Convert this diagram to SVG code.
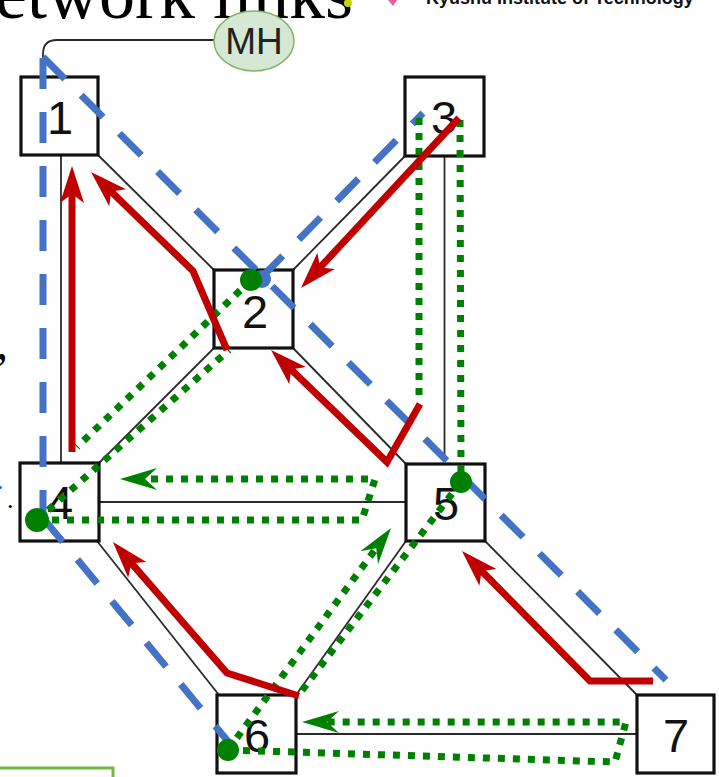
<svg xmlns="http://www.w3.org/2000/svg" width="719" height="777" viewBox="0 0 719 777">
  <style>
    .link { fill: none; stroke: #2a2a2a; stroke-width: 1.8; }
    .box { fill: #ffffff; stroke: #111111; stroke-width: 3.2; }
    .num { font-family: "Liberation Sans", Arial, sans-serif; font-size: 47px; fill: #111111; text-anchor: middle; }
    .tree { fill: none; stroke: #4472C4; stroke-width: 7; stroke-dasharray: 31 23; stroke-linejoin: miter; }
    .backup { fill: none; stroke: #008000; stroke-width: 7; stroke-dasharray: 7 8; }
    .primary { fill: none; stroke: #C00000; stroke-width: 7; stroke-linejoin: miter; }
    .dot { fill: #008000; }
  </style>
  <defs>
    <marker id="arrow-red" viewBox="0 -13 38 26" markerWidth="38" markerHeight="26" refX="17" refY="0" orient="auto" markerUnits="userSpaceOnUse">
      <path d="M0,-12 L37,0 L0,12 L9,0 Z" fill="#C00000"/>
    </marker>
    <marker id="arrow-green" viewBox="0 -13 38 26" markerWidth="38" markerHeight="26" refX="17" refY="0" orient="auto" markerUnits="userSpaceOnUse">
      <path d="M0,-11 L37,0 L0,11 L12,0 Z" fill="#008000"/>
    </marker>
  </defs>

  <rect x="0" y="0" width="719" height="777" fill="#ffffff"/>

  <!-- slide heading and footer fragments -->
  <text x="-5" y="18" font-family="'Liberation Serif', 'Times New Roman', serif" font-size="72" fill="#000000">etwork links</text>
  <ellipse cx="348" cy="3" rx="4" ry="4" fill="#c8d400"/>
  <path d="M388,0 L397,0 L393,6 Z" fill="#e0609a"/>
  <text x="426" y="4" font-family="'Liberation Sans', Arial, sans-serif" font-weight="bold" font-size="18" fill="#111111">Kyushu Institute of Technology</text>
  <text x="-4" y="359" font-family="'Liberation Serif', 'Times New Roman', serif" font-size="48" fill="#000000">,</text>
  <text x="-3" y="489" font-family="'Liberation Serif', 'Times New Roman', serif" font-size="26" fill="#0070C0">.</text>
  <text x="7" y="508" font-family="'Liberation Serif', 'Times New Roman', serif" font-size="26" fill="#000000">.</text>
  <rect x="-3" y="768" width="116" height="20" fill="#ffffff" stroke="#77b843" stroke-width="3"/>

  <!-- physical links -->
  <g id="connectors">
    <path class="link" d="M214,40 H57 Q43,40 43,54 V77"/>
    <path class="link" d="M61,155 V463"/>
    <path class="link" d="M98,155 L214,270"/>
    <path class="link" d="M405,156 L293,270"/>
    <path class="link" d="M214,348 L99,463"/>
    <path class="link" d="M293,348 L406,464"/>
    <path class="link" d="M444.5,156 V464"/>
    <path class="link" d="M99,502 H406"/>
    <path class="link" d="M97,541 L219,695"/>
    <path class="link" d="M406,541 L296,695"/>
    <path class="link" d="M485,541 L637,695"/>
    <path class="link" d="M296,734 H637"/>
  </g>

  <!-- nodes -->
  <g id="node-MH">
    <ellipse cx="254" cy="41" rx="40" ry="30" fill="#d5e8d4" stroke="#82b366" stroke-width="1.5"/>
    <text x="254" y="54" font-family="'Liberation Sans', Arial, sans-serif" font-size="37" fill="#222222" text-anchor="middle">MH</text>
  </g>
  <g id="node-1">
    <rect class="box" x="21" y="77" width="77" height="78"/>
    <text class="num" x="60" y="134">1</text>
  </g>
  <g id="node-2">
    <rect class="box" x="214" y="270" width="79" height="78"/>
    <text class="num" x="255" y="328">2</text>
  </g>
  <g id="node-3">
    <rect class="box" x="405" y="77" width="79" height="79"/>
    <text class="num" x="444" y="134">3</text>
  </g>
  <g id="node-4">
    <rect class="box" x="20" y="463" width="79" height="78"/>
    <text class="num" x="60" y="519">4</text>
  </g>
  <g id="node-5">
    <rect class="box" x="406" y="464" width="79" height="77"/>
    <text class="num" x="446" y="520">5</text>
  </g>
  <g id="node-6">
    <rect class="box" x="217" y="695" width="79" height="78"/>
    <text class="num" x="257" y="752">6</text>
  </g>
  <g id="node-7">
    <rect class="box" x="637" y="695" width="77" height="78"/>
    <text class="num" x="676" y="752">7</text>
  </g>

  <!-- routing overlays -->
  <g id="routes">
    <!-- spanning tree -->
    <path class="tree" d="M43,521 V57"/>
    <path class="tree" d="M43,57 L666,680"/>
    <path class="tree" d="M43,518 L231,745"/>
    <path class="tree" d="M261,278 L423,113"/>
    <circle cx="262" cy="279" r="9" fill="#4472C4"/>

    <!-- backup paths -->
    <path class="backup" d="M251,280 L77,447"/>
    <path class="backup" d="M37,520 L229,350"/>
    <path class="backup" d="M419,118 V402"/>
    <path class="backup" d="M460,120 L461,482"/>
    <path class="backup" d="M461,482 L297,697"/>
    <path class="backup" d="M37,520 H362 L375,479 H140" marker-end="url(#arrow-green)"/>
    <path class="backup" d="M228,750 L615,762 L626,722 H322" marker-end="url(#arrow-green)"/>
    <path class="backup" d="M228,750 L379.2,544.1" marker-end="url(#arrow-green)"/>

    <!-- primary paths -->
    <path class="primary" d="M72,452 V186" marker-end="url(#arrow-red)"/>
    <path class="primary" d="M227,350 L193,271 L105.4,185.9" marker-end="url(#arrow-red)"/>
    <path class="primary" d="M459,118 L314.6,273.3" marker-end="url(#arrow-red)"/>
    <path class="primary" d="M420,404 L387,462 L285.4,363.9" marker-end="url(#arrow-red)"/>
    <path class="primary" d="M299,696 L227,673 L126.1,557.1" marker-end="url(#arrow-red)"/>
    <path class="primary" d="M653,681 H590 L476,565.3" marker-end="url(#arrow-red)"/>

    <!-- path endpoints -->
    <circle class="dot" cx="251" cy="280" r="11"/>
    <circle class="dot" cx="37" cy="520" r="12"/>
    <circle class="dot" cx="461" cy="482" r="11"/>
    <circle class="dot" cx="228" cy="750" r="11"/>
  </g>
</svg>
